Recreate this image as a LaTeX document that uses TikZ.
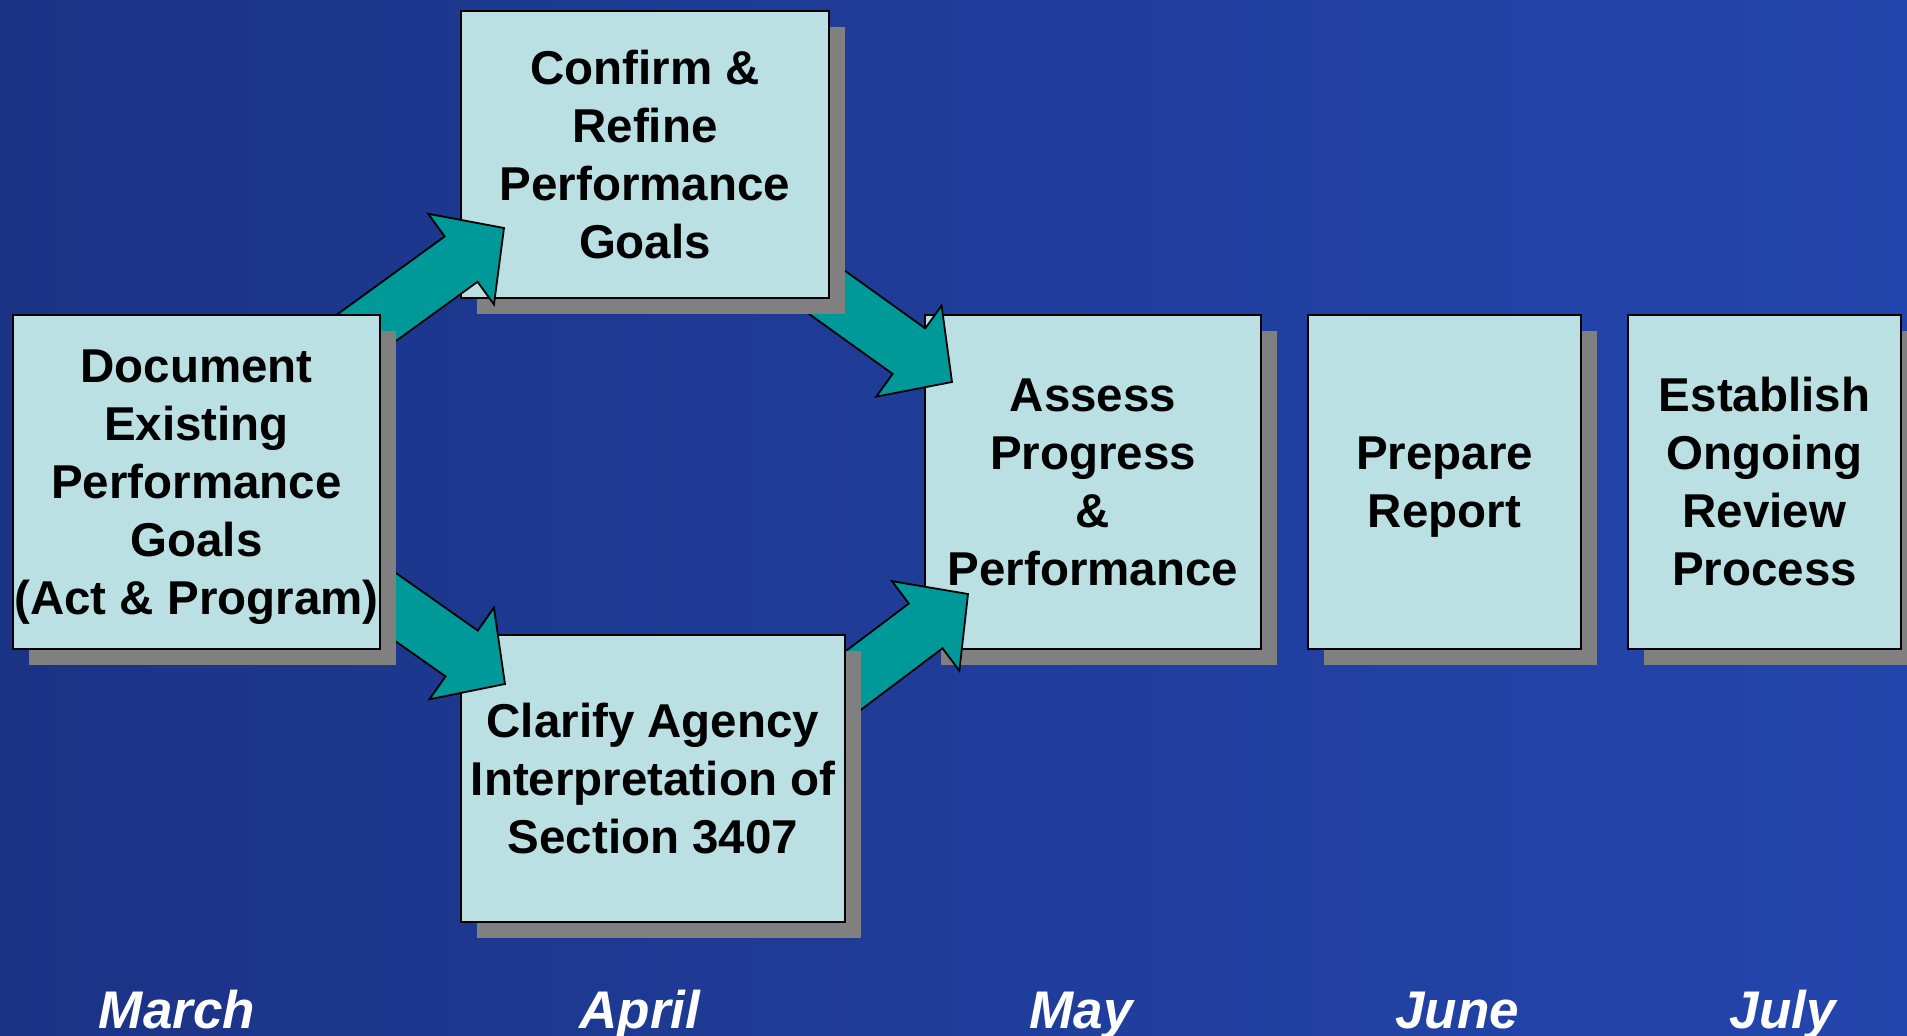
\documentclass[tikz,border=0pt]{standalone}
\usepackage{fontspec}
\setmainfont{Liberation Sans}
\usetikzlibrary{calc,shadows}
\definecolor{bgL}{HTML}{1B3385}
\definecolor{bgR}{HTML}{2346AE}
\definecolor{boxfill}{HTML}{BBE0E3}
\definecolor{tealarrow}{HTML}{009999}
\definecolor{shadowgray}{HTML}{808080}
\tikzset{
  stepbox/.style={draw=black, line width=2pt, fill=boxfill, rectangle,
    inner sep=0pt, anchor=north west, align=center, text=black,
    font=\fontsize{47.5}{58}\selectfont\bfseries,
    drop shadow={shadow xshift=16pt, shadow yshift=-16pt, fill=shadowgray, opacity=1}},
  blockarrow/.style={fill=tealarrow, draw=black, line width=1.8pt, line join=miter},
  month/.style={anchor=base, text=white, font=\fontsize{53}{60}\selectfont\bfseries\itshape}
}
% block arrow from tail #1 to tip #2
\newcommand\blockarrowpath[2]{%
  \coordinate (bhm) at ($(#2)!53pt!(#1)$);
  \draw[blockarrow] ($(#1)!28pt!90:(#2)$) -- ($(bhm)!28pt!90:(#2)$) --
    ($(bhm)!56pt!90:(#2)$) -- (#2) -- ($(bhm)!56pt!-90:(#2)$) --
    ($(bhm)!28pt!-90:(#2)$) -- ($(#1)!28pt!-90:(#2)$) -- cycle;
}
\begin{document}
\begin{tikzpicture}[x=1pt,y=-1pt]
\useasboundingbox (0,0) rectangle (1907,1036);
\shade[left color=bgL, right color=bgR] (0,0) rectangle (1907,1036);

% right-hand boxes
\node[stepbox, minimum width=336pt, minimum height=334pt] (assess) at (924,314)
  {Assess\\Progress\\\&\\Performance};
\node[stepbox, minimum width=273pt, minimum height=334pt] (report) at (1307,314)
  {Prepare\\\smash{Report}};
\node[stepbox, minimum width=273pt, minimum height=334pt] (review) at (1627,314)
  {Establish\\Ongoing\\Review\\Process};

% arrows into Assess (tails hidden under the April boxes)
\coordinate (t2) at ($(assess.north west)+(-177,-79)$);
\coordinate (h2) at ($(assess.north west)+(28,68)$);
\blockarrowpath{t2}{h2}
\coordinate (t4) at ($(assess.south west)+(-159,97)$);
\coordinate (h4) at ($(assess.north west)+(44,280)$);
\blockarrowpath{t4}{h4}

% April boxes
\node[stepbox, minimum width=368pt, minimum height=287pt] (confirm) at (460,10)
  {Confirm \&\\Refine\\Performance\\Goals};
\node[stepbox, minimum width=384pt, minimum height=287pt] (clarify) at (460,634)
  {Clarify Agency\\Interpretation of\\Section 3407};

% arrows out of Document
\coordinate (t1) at ($(confirm.south west)+(-160,77)$);
\coordinate (h1) at ($(confirm.south west)+(44,-71)$);
\blockarrowpath{t1}{h1}
\coordinate (t3) at ($(clarify.north west)+(-161,-95)$);
\coordinate (h3) at ($(clarify.north west)+(45,50)$);
\blockarrowpath{t3}{h3}

% March box
\node[stepbox, minimum width=367pt, minimum height=334pt] (document) at (12,314)
  {Document\\Existing\\Performance\\Goals\\\smash{(Act \& Program)}};

% months
\node[month] (march) at (177,1028) {March};
\node[month] (april) at (640,1028) {April};
\node[month] (may)   at (1081,1028) {May};
\node[month] (june)  at (1457,1028) {June};
\node[month] (july)  at (1783,1028) {July};
\end{tikzpicture}
\end{document}
